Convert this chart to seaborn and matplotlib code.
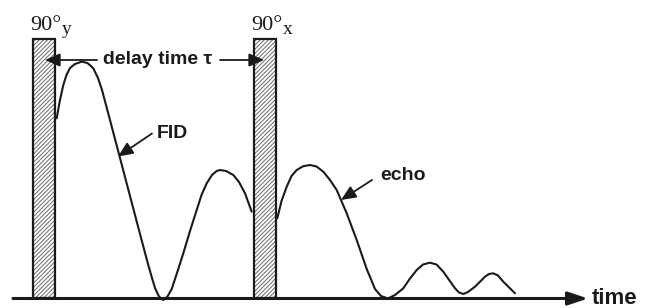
import numpy as np
import pandas as pd
import matplotlib
matplotlib.use("Agg")
import matplotlib.pyplot as plt
import seaborn as sns

# ==============================
# data (time in px-like units, amplitude above the time axis)
# ==============================
fid_t = [56.7, 60, 63.3, 66.5, 70, 75, 81.7, 87.5, 93.3, 98, 102, 106, 110, 120,
         130, 140, 148, 152, 155, 159, 163.3, 167.5, 171.7, 177, 183.3, 190,
         196.7, 201.5, 206.7, 212, 216.7, 220, 226, 233.3, 239, 245, 251.7]
fid_amp = [179.7, 198, 213, 223, 230, 234, 236.3, 235, 229.7, 220, 208, 193, 178,
           140, 102, 64, 34, 20, 10, 1.5, -2, 1.5, 9, 25, 44.7, 67, 88, 103,
           114.7, 123, 127, 128, 127, 123, 116, 104.7, 86.3]

echo_t = [277.3, 281.5, 286.7, 291.5, 296.7, 303, 310, 316.5, 323.3, 330, 336.7,
          346.7, 356.7, 366.7, 375, 381, 388, 395, 403.3, 410, 416.7, 423, 430,
          436.5, 443.3, 455, 459, 463.3, 468, 475, 485, 489, 493.3, 498, 503.3,
          515]
echo_amp = [79.7, 97, 111.3, 122, 128, 131.7, 133, 131.5, 126.3, 118, 108, 84.7,
            58, 29, 9, 2, -0.5, 3, 9.7, 19.5, 28, 33.5, 35.3, 33.5, 26.3, 9.7, 5.5,
            4, 6, 11.3, 21.3, 24, 24.7, 22.5, 16.3, 4.7]

pulse_start = [33, 254]
pulse_end = [55, 276]
pulse_top = 259
pulse_labels = ["90\u00b0", "90\u00b0"]
pulse_phase = ["y", "x"]

df = pd.concat([
    pd.DataFrame({"time": fid_t, "amp": fid_amp, "part": "FID"}),
    pd.DataFrame({"time": echo_t, "amp": echo_amp, "part": "echo"}),
])

# ==============================
# figure
# ==============================
sns.set_style("white")
plt.rcParams["hatch.linewidth"] = 0.7

fig = plt.figure(figsize=(6.52, 3.08), dpi=100)
ax = fig.add_axes([0, 0, 1, 1])
ax.set_xlim(0, 652)
ax.set_ylim(-10, 298)
ax.axis("off")

# pulses: gray hatch + black frame
for s, e in zip(pulse_start, pulse_end):
    ax.bar(s, pulse_top, width=e - s, align="edge", color="white",
           edgecolor="#6a6a6a", hatch="////////", linewidth=0, zorder=2)
    ax.bar(s, pulse_top, width=e - s, align="edge", fill=False,
           edgecolor="#1a1a1a", linewidth=1.6, zorder=3)

sns.lineplot(data=df, x="time", y="amp", units="part", estimator=None,
             sort=False, color="#1a1a1a", linewidth=1.5, ax=ax, zorder=4)

# time axis
ax.annotate("", xy=(588, -0.5), xytext=(13, -0.5),
            arrowprops=dict(arrowstyle="-|>,head_length=0.6,head_width=0.2",
                            mutation_scale=20, lw=2.2, color="#1a1a1a",
                            shrinkA=0, shrinkB=0), zorder=5)
ax.text(592, -0.5, "time", fontsize=16, fontweight="bold",
        family="Liberation Sans", va="center", ha="left", color="#1a1a1a")

# pulse labels
for s, lab, ph in zip(pulse_start, pulse_labels, pulse_phase):
    ax.text(s - 3, 268.5, lab, fontsize=16, family="Liberation Serif",
            va="baseline", ha="left", color="#1a1a1a")
    ax.text(s + 29, 264, ph, fontsize=14, family="Liberation Serif",
            va="baseline", ha="left", color="#1a1a1a")

# delay time arrow
txt_kw = dict(fontsize=14, fontweight="bold", family="Liberation Sans",
              color="#1a1a1a")
ax.text(158, 238, "delay time \u03c4", ha="center", va="center", **txt_kw)
arr = dict(arrowstyle="-|>,head_length=0.5,head_width=0.22", mutation_scale=18,
           lw=1.3, color="#1a1a1a", shrinkA=0, shrinkB=0)
ax.annotate("", xy=(45, 238), xytext=(97, 238), arrowprops=arr, zorder=5)
ax.annotate("", xy=(264, 238), xytext=(220, 238), arrowprops=arr, zorder=5)

# FID / echo labels
ax.text(157, 165, "FID", ha="left", va="center", **txt_kw)
ax.annotate("", xy=(118, 141.5), xytext=(152, 164.5), arrowprops=arr, zorder=5)
ax.text(380, 123, "echo", ha="left", va="center", **txt_kw)
ax.annotate("", xy=(341, 98), xytext=(372, 118), arrowprops=arr, zorder=5)

plt.savefig("out.png", dpi=100)
